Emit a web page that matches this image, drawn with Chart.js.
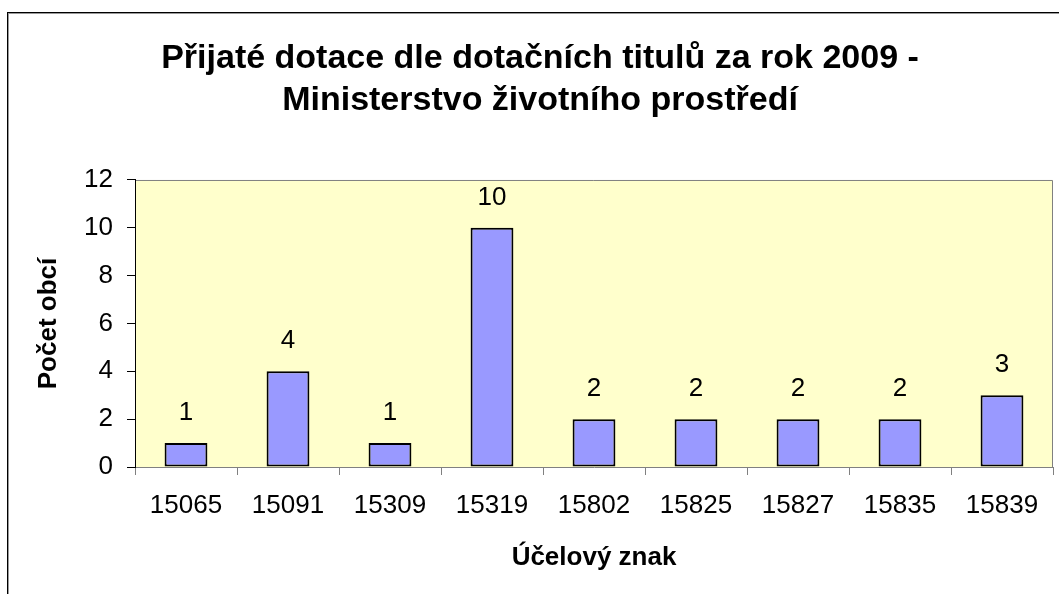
<html>
<head>
<style>
body { margin: 0; background: #fff; }
</style>
<script src="https://cdn.jsdelivr.net/npm/chart.js"></script>
</head>
<body>
<canvas id="myChart" width="1059" height="594"></canvas>
<script>
// data
const categories = ['15065', '15091', '15309', '15319', '15802', '15825', '15827', '15835', '15839'];
const pocetObci = [1, 4, 1, 10, 2, 2, 2, 2, 3];
const titleLines = ['Přijaté dotace dle dotačních titulů za rok 2009 -', 'Ministerstvo životního prostředí'];

const FONT = '"Liberation Sans", Arial, sans-serif';

// yellow plot area + gray frame top/right, outer box of the picture
const plotBg = {
  id: 'plotBg',
  beforeDraw(chart) {
    const ctx = chart.ctx;
    const a = chart.chartArea;
    ctx.save();
    ctx.fillStyle = '#FFFFCC';
    ctx.fillRect(a.left, a.top, a.right - a.left, a.bottom - a.top);
    ctx.strokeStyle = '#808080';
    ctx.lineWidth = 1;
    ctx.beginPath();
    ctx.moveTo(a.left, a.top + 0.5);
    ctx.lineTo(a.right - 0.5, a.top + 0.5);
    ctx.lineTo(a.right - 0.5, a.bottom);
    ctx.stroke();
    // outer frame
    ctx.strokeStyle = '#000';
    ctx.strokeRect(7.5, 12.5, 1200, 800);
    ctx.strokeStyle = '#999';
    ctx.strokeRect(8.5, 13.5, 1200, 800);
    ctx.restore();
  }
};

// value labels above the bars
const valueLabels = {
  id: 'valueLabels',
  afterDatasetsDraw(chart) {
    const ctx = chart.ctx;
    const meta = chart.getDatasetMeta(0);
    ctx.save();
    ctx.font = '26px ' + FONT;
    ctx.fillStyle = '#000';
    ctx.textAlign = 'center';
    ctx.textBaseline = 'middle';
    meta.data.forEach((bar, i) => {
      ctx.fillText(String(pocetObci[i]), bar.x, bar.y - 30);
    });
    ctx.restore();
  }
};

const config = {
  type: 'bar',
  data: {
    labels: categories,
    datasets: [{
      label: 'Počet obcí',
      data: pocetObci,
      backgroundColor: '#9999FF',
      borderColor: '#000',
      borderWidth: 2,
      borderSkipped: false,
      categoryPercentage: 1,
      barPercentage: 0.42
    }]
  },
  options: {
    responsive: false,
    animation: false,
    devicePixelRatio: 1,
    layout: { padding: { left: 27, right: 6, top: 0, bottom: 0 } },
    plugins: {
      legend: { display: false },
      tooltip: { enabled: false },
      title: {
        display: true,
        text: titleLines,
        color: '#000',
        font: { family: FONT, size: 34, weight: 'bold', lineHeight: 1.235 },
        padding: { top: 38, bottom: 58 }
      }
    },
    scales: {
      x: {
        grid: { display: true, drawOnChartArea: false, offset: true, tickLength: 8, color: '#808080' },
        border: { display: true, color: '#808080', width: 1 },
        ticks: { color: '#000', font: { family: FONT, size: 26 }, padding: 15, maxRotation: 0 },
        title: {
          display: true,
          text: 'Účelový znak',
          color: '#000',
          font: { family: FONT, size: 26, weight: 'bold' },
          padding: { top: 0, bottom: 21 }
        },
        afterFit(scale) { scale.height = 127; }
      },
      y: {
        min: 0,
        max: 12,
        grid: { display: true, drawOnChartArea: false, tickLength: 8, color: '#000' },
        border: { display: true, color: '#000', width: 1 },
        ticks: { stepSize: 2, color: '#000', font: { family: FONT, size: 26 }, padding: 14 },
        title: {
          display: true,
          text: 'Počet obcí',
          color: '#000',
          font: { family: FONT, size: 26, weight: 'bold' },
          padding: { top: 6, bottom: 4 }
        },
        afterFit(scale) { scale.width = 108; }
      }
    }
  },
  plugins: [plotBg, valueLabels]
};

const myChart = new Chart(document.getElementById('myChart'), config);
</script>
</body>
</html>
